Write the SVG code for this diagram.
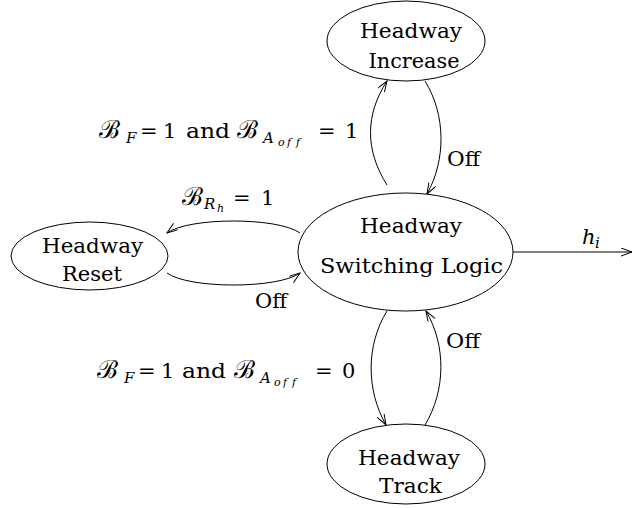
<svg xmlns="http://www.w3.org/2000/svg" width="632" height="508" viewBox="0 0 632 508">
<style>
  .node ellipse { fill: #fff; stroke: #000; stroke-width: 1; }
  text { font-family: "DejaVu Serif", "Liberation Serif", serif; fill: #000; }
  .lbl { font-size: 21px; text-anchor: middle; }
  .edge { fill: none; stroke: #000; stroke-width: 1; }
  .t { font-size: 21px; }
  .cal { font-size: 25px; }
  .sub { font-style: italic; font-size: 15px; }
  .subsub { font-style: italic; font-size: 11px; font-variant-ligatures: none; }
</style>
<defs>
  <marker id="arr" markerWidth="12" markerHeight="10" refX="11" refY="4" orient="auto" markerUnits="userSpaceOnUse">
    <path d="M0,0 L11,4 L0,8" fill="none" stroke="#000" stroke-width="1"/>
  </marker>
</defs>
<rect width="632" height="508" fill="#fff"/>

<g id="connectors">
  <path class="edge" d="M387,185 C365,150 365,115 387,81" marker-end="url(#arr)"/>
  <path class="edge" d="M425,81 C446,115 446,160 427,194" marker-end="url(#arr)"/>
  <path class="edge" d="M300,233 C278,217 189,217 167,233" marker-end="url(#arr)"/>
  <path class="edge" d="M167,273 C189,289 278,289 300,273" marker-end="url(#arr)"/>
  <path class="edge" d="M387,311 C366,345 366,390 386,425" marker-end="url(#arr)"/>
  <path class="edge" d="M425,425 C446,390 446,345 426,311" marker-end="url(#arr)"/>
  <path class="edge" d="M513,252 L632,252" marker-end="url(#arr)"/>

  <text class="t" x="447" y="166" textLength="33" lengthAdjust="spacingAndGlyphs">Off</text>
  <text class="t" x="255" y="308" textLength="32" lengthAdjust="spacingAndGlyphs">Off</text>
  <text class="t" x="446" y="348" textLength="34" lengthAdjust="spacingAndGlyphs">Off</text>

  <text class="t" y="138"><tspan class="cal" x="99">ℬ</tspan><tspan class="sub" x="126" y="143">F</tspan><tspan x="140" y="138">=</tspan><tspan x="163">1</tspan><tspan x="186" textLength="44" lengthAdjust="spacingAndGlyphs">and</tspan><tspan class="cal" x="237">ℬ</tspan><tspan class="sub" x="263" y="143">A</tspan><tspan class="subsub" x="278" y="146">o</tspan><tspan class="subsub" x="287" y="146">f</tspan><tspan class="subsub" x="296" y="146">f</tspan><tspan x="318" y="138">=</tspan><tspan x="345">1</tspan></text>

  <text class="t" y="205"><tspan class="cal" x="182">ℬ</tspan><tspan class="sub" x="204" y="209">R</tspan><tspan class="subsub" x="217" y="212">h</tspan><tspan x="233" y="205">=</tspan><tspan x="261">1</tspan></text>

  <text class="t" y="378"><tspan class="cal" x="97">ℬ</tspan><tspan class="sub" x="124" y="383">F</tspan><tspan x="138" y="378">=</tspan><tspan x="161">1</tspan><tspan x="182" textLength="44" lengthAdjust="spacingAndGlyphs">and</tspan><tspan class="cal" x="234">ℬ</tspan><tspan class="sub" x="260" y="383">A</tspan><tspan class="subsub" x="274" y="386">o</tspan><tspan class="subsub" x="283" y="386">f</tspan><tspan class="subsub" x="292" y="386">f</tspan><tspan x="315" y="378">=</tspan><tspan x="342">0</tspan></text>

  <text class="t" y="244"><tspan x="582" font-style="italic">h</tspan><tspan class="sub" x="595" y="248">i</tspan></text>
</g>

<g id="increase" class="node">
  <ellipse cx="406" cy="41" rx="79" ry="40"/>
  <text class="lbl" x="411" y="38" textLength="102" lengthAdjust="spacingAndGlyphs">Headway</text>
  <text class="lbl" x="414" y="68" textLength="91" lengthAdjust="spacingAndGlyphs">Increase</text>
</g>
<g id="switching" class="node">
  <ellipse cx="405.5" cy="252" rx="107.5" ry="59"/>
  <text class="lbl" x="411" y="233" textLength="102" lengthAdjust="spacingAndGlyphs">Headway</text>
  <text class="lbl" x="411.5" y="273" textLength="183" lengthAdjust="spacingAndGlyphs">Switching Logic</text>
</g>
<g id="reset" class="node">
  <ellipse cx="89.5" cy="256" rx="78.5" ry="34"/>
  <text class="lbl" x="92.5" y="253" textLength="101" lengthAdjust="spacingAndGlyphs">Headway</text>
  <text class="lbl" x="92" y="281" textLength="60" lengthAdjust="spacingAndGlyphs">Reset</text>
</g>
<g id="track" class="node">
  <ellipse cx="406" cy="464" rx="79" ry="40"/>
  <text class="lbl" x="409" y="465" textLength="102" lengthAdjust="spacingAndGlyphs">Headway</text>
  <text class="lbl" x="410.5" y="493" textLength="63" lengthAdjust="spacingAndGlyphs">Track</text>
</g>
</svg>
